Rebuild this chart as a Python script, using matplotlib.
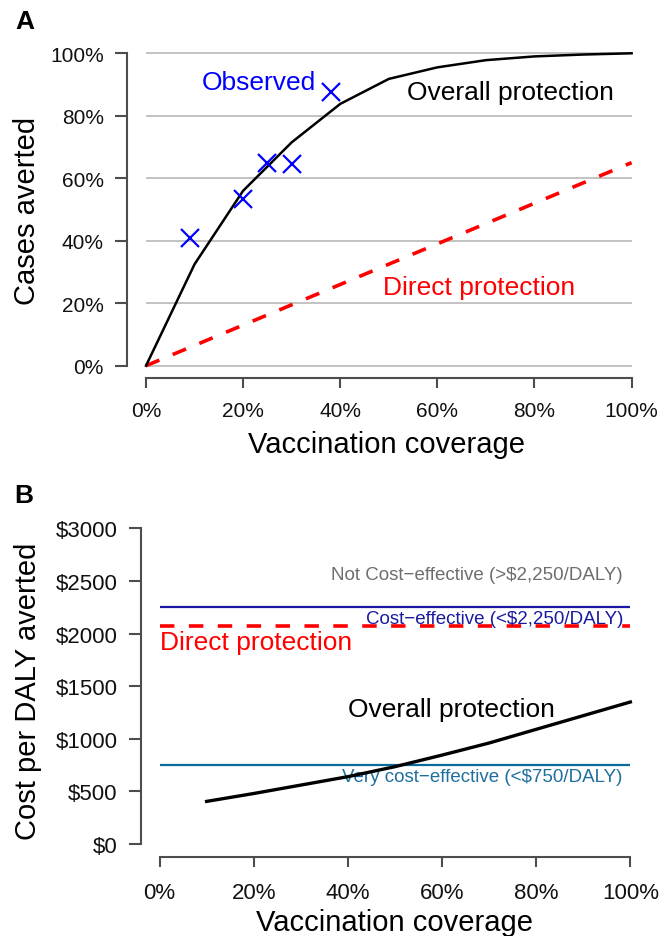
import matplotlib
matplotlib.use("Agg")
import matplotlib.pyplot as plt

plt.rcParams['font.family'] = ['Liberation Sans', 'DejaVu Sans']
plt.rcParams['text.parse_math'] = False

# Panel A data
coverage = [0.0, 0.1, 0.2, 0.3, 0.4, 0.5, 0.6, 0.7, 0.8, 0.9, 1.0]
overall_cases = [0.0, 0.325, 0.56, 0.715, 0.838, 0.918, 0.955, 0.978, 0.99, 0.996, 1.0]
direct_cov = [0.0, 1.0]
direct_cases = [0.0, 0.65]
obs_cov = [0.09, 0.20, 0.25, 0.30, 0.38]
obs_cases = [0.41, 0.535, 0.65, 0.645, 0.875]

# Panel B data
cost_cov = [0.1, 0.2, 0.3, 0.4, 0.5, 0.6, 0.7, 0.8, 0.9, 1.0]
overall_cost = [405, 480, 560, 640, 735, 845, 960, 1090, 1220, 1350]
direct_cost = 2075
ce_threshold = 2250
vce_threshold = 750

pct_ticks = [0, 0.2, 0.4, 0.6, 0.8, 1.0]
pct_labels = ['0%', '20%', '40%', '60%', '80%', '100%']
cost_ticks = [0, 500, 1000, 1500, 2000, 2500, 3000]
cost_labels = ['$0', '$500', '$1000', '$1500', '$2000', '$2500', '$3000']

axis_col = '#4d4d4d'
W, H = 659, 937

fig = plt.figure(figsize=(W / 100, H / 100), dpi=100)
axA = fig.add_axes([0.1921, 0.5953, 0.7958, 0.3601])
axB = fig.add_axes([0.2135, 0.0847, 0.7716, 0.3638])


def r_style(ax, ymin, ymax, yticks, ylabels, size, xpad):
    ax.set_xlim(-0.04, 1.04)
    pad = 0.04 * (ymax - ymin)
    ax.set_ylim(ymin - pad, ymax + pad)
    for s in ['top', 'right']:
        ax.spines[s].set_visible(False)
    ax.spines['left'].set_bounds(ymin, ymax)
    ax.spines['bottom'].set_bounds(0, 1)
    for s in ['left', 'bottom']:
        ax.spines[s].set_color(axis_col)
        ax.spines[s].set_linewidth(1.5)
    ax.set_xticks(pct_ticks)
    ax.set_xticklabels(pct_labels)
    ax.set_yticks(yticks)
    ax.set_yticklabels(ylabels)
    ax.tick_params(axis='both', color=axis_col, width=1.5, labelsize=size,
                   labelcolor='#111111')
    ax.tick_params(axis='y', length=8.5, pad=8)
    ax.tick_params(axis='x', length=7.5, pad=xpad)


# ---- Panel A ----
r_style(axA, 0, 1, pct_ticks, pct_labels, 15, 9)
axA.hlines(pct_ticks, 0, 1, colors='#bdbdbd', linewidth=1.3, zorder=1)
axA.plot(direct_cov, direct_cases, color='red', linewidth=2.6,
         dashes=(4, 4), zorder=2)
axA.plot(coverage, overall_cases, color='black', linewidth=1.8, zorder=3)
axA.plot(obs_cov, obs_cases, linestyle='none', marker='x', markersize=13,
         markeredgewidth=1.6, color='blue', zorder=4)
axA.text(0.35, 0.908, 'Observed', color='blue', fontsize=19, ha='right', va='center')
axA.text(0.537, 0.875, 'Overall protection', color='black', fontsize=19,
         ha='left', va='center')
axA.text(0.488, 0.251, 'Direct protection', color='red', fontsize=19,
         ha='left', va='center')

fig.text(25 / W, 1 - 22 / H, 'A', fontsize=19, fontweight='bold', ha='center', va='center')
fig.text(387 / W, 1 - 445 / H, 'Vaccination coverage', fontsize=21, ha='center', va='center')
fig.text(27 / W, 1 - 211 / H, 'Cases averted', fontsize=21, rotation=90,
         ha='center', va='center')

# ---- Panel B ----
r_style(axB, 0, 3000, cost_ticks, cost_labels, 16, 11)
axB.hlines(ce_threshold, 0, 1, colors='#1a1aa0', linewidth=1.6, zorder=2)
axB.hlines(vce_threshold, 0, 1, colors='#0a6a98', linewidth=1.6, zorder=2)
axB.plot([0, 1], [direct_cost, direct_cost], color='red', linewidth=2.6,
         dashes=(4, 4), zorder=3)
axB.plot(cost_cov, overall_cost, color='black', linewidth=2.4, zorder=4)

axB.text(0.984, 2566, 'Not Cost\u2212effective (>$2,250/DALY)', color='#6e6e6e',
         fontsize=13.5, ha='right', va='center')
axB.text(0.986, 2139, 'Cost\u2212effective (<$2,250/DALY)', color='#1a1aa0',
         fontsize=13.5, ha='right', va='center')
axB.text(0.984, 639, 'Very cost\u2212effective (<$750/DALY)', color='#1f6f9c',
         fontsize=13.5, ha='right', va='center')
axB.text(0.0, 1920, 'Direct protection', color='red', fontsize=19,
         ha='left', va='center')
axB.text(0.40, 1285, 'Overall protection', color='black', fontsize=19,
         ha='left', va='center')

fig.text(24 / W, 1 - 496 / H, 'B', fontsize=19, fontweight='bold', ha='center', va='center')
fig.text(395 / W, 1 - 923 / H, 'Vaccination coverage', fontsize=21, ha='center', va='center')
fig.text(28 / W, 1 - 691 / H, 'Cost per DALY averted', fontsize=21, rotation=90,
         ha='center', va='center')

fig.savefig('out.png', dpi=100)
